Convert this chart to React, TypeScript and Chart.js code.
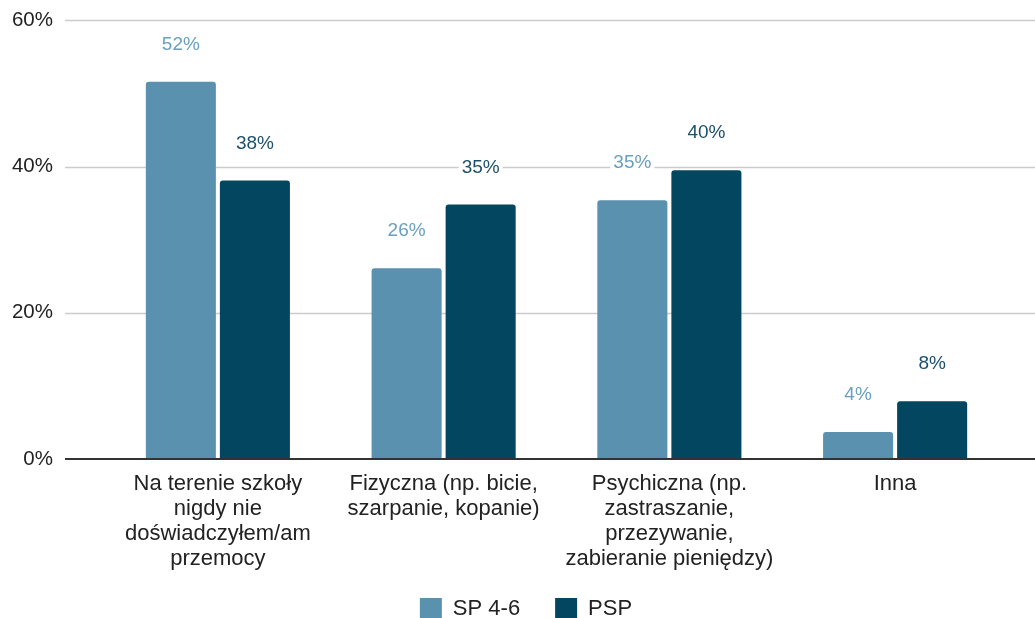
import React, { useEffect, useRef } from "react";
import { Chart, registerables } from "chart.js";

Chart.register(...registerables);

const categories: string[][] = [
  ["Na terenie szkoły", "nigdy nie", "doświadczyłem/am", "przemocy"],
  ["Fizyczna (np. bicie,", "szarpanie, kopanie)"],
  ["Psychiczna (np.", "zastraszanie,", "przezywanie,", "zabieranie pieniędzy)"],
  ["Inna"],
];
const seriesNames = ["SP 4-6", "PSP"];
const spValues = [51.6, 26.1, 35.4, 3.7];
const pspValues = [38.1, 34.8, 39.5, 7.9];
const yTicks = [0, 20, 40, 60];

const barColors = ["#5a91af", "#03465f"];
const labelColors = ["#6aa0bd", "#1d5069"];
const FONT = "'Liberation Sans', Arial, sans-serif";

const gridPlugin = {
  id: "customGrid",
  afterLayout(chart: any) {
    const l = chart.legend;
    if (l) {
      l.left += 22;
      l.right += 22;
    }
    const x = chart.scales.x;
    if (x) x.bottom += 17;
  },
  beforeDatasetsDraw(chart: any) {
    const { ctx } = chart;
    const y = chart.scales.y;
    ctx.save();
    yTicks.forEach((t) => {
      if (t === 0) return;
      const py = Math.round(y.getPixelForValue(t)) + 0.5;
      ctx.strokeStyle = "#cccccc";
      ctx.lineWidth = 1.5;
      ctx.beginPath();
      ctx.moveTo(65, py);
      ctx.lineTo(1035, py);
      ctx.stroke();
    });
    ctx.restore();
  },
  afterDatasetsDraw(chart: any) {
    const { ctx } = chart;
    const y = chart.scales.y;
    ctx.save();
    const py = Math.round(y.getPixelForValue(0));
    ctx.strokeStyle = "#333333";
    ctx.lineWidth = 2;
    ctx.beginPath();
    ctx.moveTo(65, py);
    ctx.lineTo(1035, py);
    ctx.stroke();

    ctx.font = `19px ${FONT}`;
    ctx.textAlign = "center";
    ctx.textBaseline = "middle";
    chart.data.datasets.forEach((ds: any, di: number) => {
      const meta = chart.getDatasetMeta(di);
      meta.data.forEach((bar: any, i: number) => {
        const text = Math.round(ds.data[i]) + "%";
        const tx = bar.x;
        const ty = bar.y - 37;
        const w = ctx.measureText(text).width;
        ctx.fillStyle = "#ffffff";
        ctx.fillRect(tx - w / 2 - 3, ty - 10, w + 6, 20);
        ctx.fillStyle = labelColors[di];
        ctx.fillText(text, tx, ty);
      });
    });
    ctx.restore();
  },
};

export default function App() {
  const ref = useRef<HTMLCanvasElement | null>(null);
  useEffect(() => {
    document.body.style.margin = "0";
    const canvas = ref.current!;
    const chart = new Chart(canvas, {
      type: "bar",
      data: {
        labels: categories,
        datasets: [
          {
            label: seriesNames[0],
            data: spValues,
            backgroundColor: barColors[0],
            borderRadius: { topLeft: 3, topRight: 3 },
            borderSkipped: "bottom",
            categoryPercentage: 0.656,
            barPercentage: 0.946,
          },
          {
            label: seriesNames[1],
            data: pspValues,
            backgroundColor: barColors[1],
            borderRadius: { topLeft: 3, topRight: 3 },
            borderSkipped: "bottom",
            categoryPercentage: 0.656,
            barPercentage: 0.946,
          },
        ],
      },
      options: {
        responsive: false,
        animation: false,
        layout: { padding: { left: 0, right: 27, top: 20, bottom: 0 } },
        scales: {
          x: {
            grid: { display: false },
            border: { display: false },
            ticks: {
              color: "#222222",
              font: { size: 22, family: FONT, lineHeight: 25 / 22 },
              padding: 4,
              maxRotation: 0,
              autoSkip: false,
            },
            afterFit: (s: any) => {
              s.height = 104;
            },
          },
          y: {
            min: 0,
            max: 60,
            grid: {
              display: true,
              drawOnChartArea: false,
              color: "rgba(0,0,0,0)",
              tickLength: 44,
            },
            border: { display: false },
            afterBuildTicks: (s: any) => {
              s.ticks = yTicks.map((v) => ({ value: v }));
            },
            ticks: {
              color: "#222222",
              font: { size: 20.5, family: FONT },
              padding: 8,
              callback: (v: any) => v + "%",
            },
            afterFit: (s: any) => {
              s.width = 105;
            },
          },
        },
        plugins: {
          legend: {
            position: "bottom",
            labels: {
              boxWidth: 22,
              boxHeight: 22,
              padding: 35,
              color: "#222222",
              font: { size: 22, family: FONT },
            },
          },
          tooltip: { enabled: false },
        },
      },
      plugins: [gridPlugin],
    });
    return () => chart.destroy();
  }, []);
  return (
    <div style={{ width: 1035, height: 630 }}>
      <canvas ref={ref} width={1035} height={630} style={{ display: "block" }} />
    </div>
  );
}
